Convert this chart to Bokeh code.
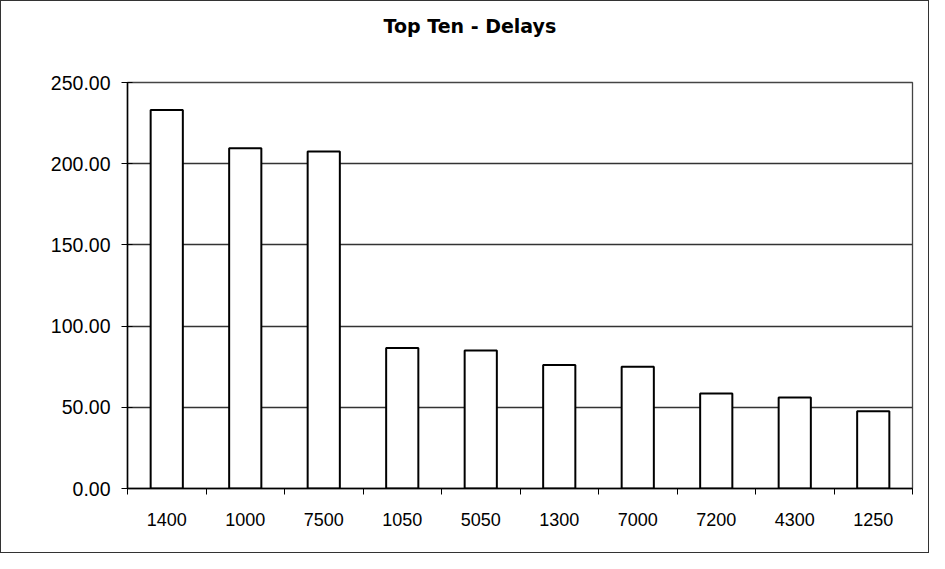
import numpy as np
from bokeh.plotting import figure
from bokeh.models import Range1d, FixedTicker, NumeralTickFormatter, ColumnDataSource, Title
from bokeh.embed import file_html
from bokeh.resources import INLINE

categories = ["1400", "1000", "7500", "1050", "5050", "1300", "7000", "7200", "4300", "1250"]
delays = [233, 209.5, 207.5, 86.5, 85, 76, 75, 58.5, 56, 47.5]
y_ticks = [0, 50, 100, 150, 200, 250]
title_text = "Top Ten - Delays"

n = len(categories)
centers = np.arange(n) + 0.5
source = ColumnDataSource(dict(x=centers, top=delays, name=categories))

p = figure(width=929, height=553, output_backend="svg", toolbar_location=None, title=None,
           x_range=Range1d(0, n), y_range=Range1d(0, 250),
           min_border_left=126, min_border_right=18, min_border_top=81, min_border_bottom=66)
p.styles = {"border": "1px solid #333"}

# spacer (nearest the frame), then the visible title above it
p.add_layout(Title(text=" ", text_font_size="19px", standoff=18), "above")
p.add_layout(Title(text=title_text, align="left", offset=256, standoff=10,
                   text_font="DejaVu Sans", text_font_style="bold", text_font_size="19px",
                   text_color="black"), "above")

p.vbar(x="x", top="top", bottom=0, width=0.41, source=source,
       fill_color="white", line_color="black", line_width=2)

# x axis: labels at centres, tick marks at category boundaries
xa = p.xaxis[0]
xa.ticker = FixedTicker(ticks=list(centers), minor_ticks=list(np.arange(n + 1)))
xa.major_label_overrides = {float(c): name for c, name in zip(centers, categories)}
xa.major_tick_in = 0
xa.major_tick_out = 0
xa.minor_tick_in = 0
xa.minor_tick_out = 6
xa.minor_tick_line_color = "black"
xa.axis_line_color = "black"
xa.axis_line_width = 1.5
xa.major_label_standoff = 18
xa.major_label_text_font = "Liberation Sans"
xa.major_label_text_font_size = "18px"
xa.major_label_text_color = "black"

ya = p.yaxis[0]
ya.ticker = FixedTicker(ticks=y_ticks, minor_ticks=[])
ya.formatter = NumeralTickFormatter(format="0.00")
ya.major_tick_in = 5
ya.major_tick_out = 6
ya.major_tick_line_color = "black"
ya.axis_line_color = "black"
ya.axis_line_width = 1.5
ya.major_label_standoff = 11
ya.major_label_text_font = "Liberation Sans"
ya.major_label_text_font_size = "19.5px"
ya.major_label_text_color = "black"

p.xgrid.visible = False
p.ygrid.ticker = FixedTicker(ticks=y_ticks)
p.ygrid.grid_line_color = "#333333"
p.ygrid.grid_line_width = 1.3
p.outline_line_color = "#444444"
p.outline_line_width = 1.3

open("out.html", "w").write(file_html(p, INLINE))
